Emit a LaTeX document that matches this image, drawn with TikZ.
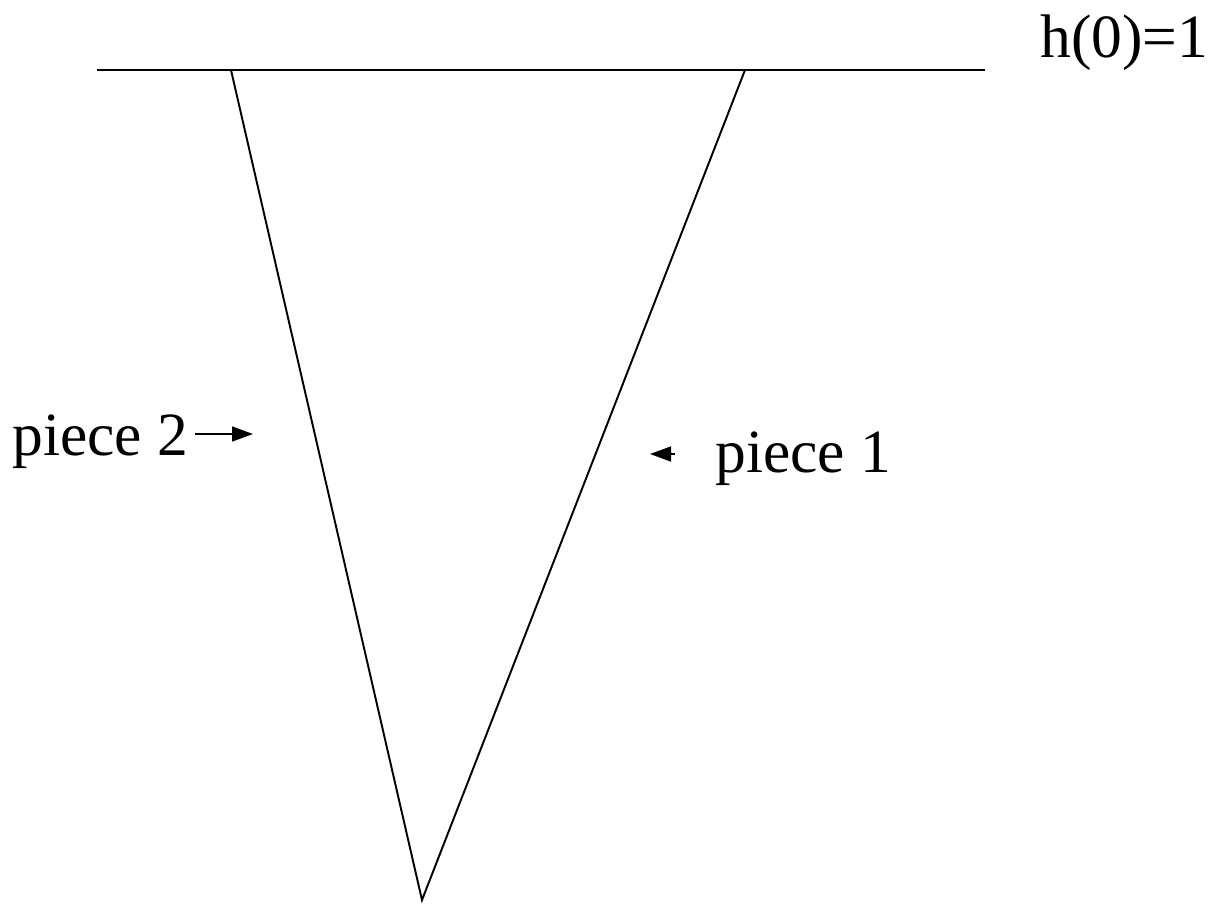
\documentclass[tikz,border=0pt]{standalone}
\usepackage{fontspec}
\setmainfont{Liberation Serif}
\usetikzlibrary{arrows.meta}
\tikzset{
  lbl/.style={inner sep=0pt,anchor=base west,font=\fontsize{35}{40}\selectfont},
  ptr/.style={line width=0.9pt,-{Triangle[length=0.42cm,width=0.3cm]}}
}
\begin{document}
\begin{tikzpicture}[x=0.02cm,y=-0.02cm]
  \useasboundingbox (0,0) rectangle (1215,904);
  \coordinate (lend) at (97,70);
  \coordinate (rend) at (985,70);
  \coordinate (tl) at (231,70);
  \coordinate (tr) at (745,70);
  \coordinate (tip) at (422,900);
  \draw[line width=1.1pt] (lend)--(rend);
  \draw[line width=1.1pt] (tl)--(tip)--(tr);
  \node[lbl] (h0) at (1040,57){h(0)=1};
  \node[lbl] (p2) at (12,455){piece 2};
  \node[lbl] (p1) at (715,472){piece 1};
  \coordinate (a2) at (253,434);
  \coordinate (b1) at (675,454);
  \coordinate (a1) at (650,454);
  \draw[ptr] ([xshift=0.12cm]p2.east|-a2)--(a2);
  \draw[ptr] (b1)--(a1);
\end{tikzpicture}
\end{document}
